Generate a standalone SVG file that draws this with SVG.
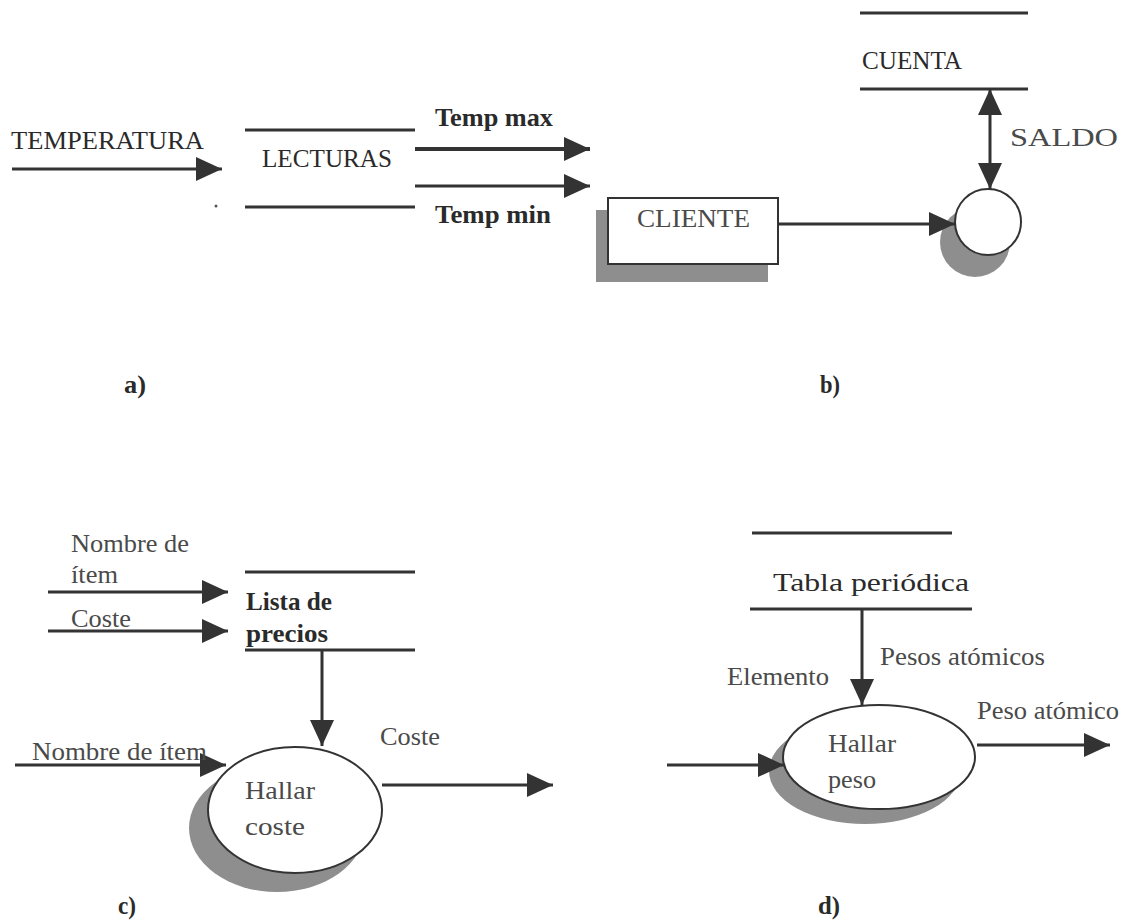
<svg xmlns="http://www.w3.org/2000/svg" width="1134" height="923" viewBox="0 0 1134 923">
  <style>
    text { font-family: "Liberation Serif", "Times New Roman", serif; font-size: 26px; fill: #2a2a2a; }
    .b { font-weight: bold; }
    .g { fill: #4a4a4a; }
    .line { stroke: #333; stroke-width: 3; fill: none; }
    .thick { stroke: #333; stroke-width: 4; fill: none; }
    .shape { fill: #fff; stroke: #333; stroke-width: 2; }
    .shadow { fill: #8e8e8e; }
  </style>
  <defs>
    <marker id="arrow" viewBox="0 0 26 24" refX="26" refY="12" markerWidth="26" markerHeight="24" markerUnits="userSpaceOnUse" orient="auto-start-reverse">
      <path d="M0,0 L26,12 L0,24 Z" fill="#333"/>
    </marker>
  </defs>
  <rect width="1134" height="923" fill="#fff"/>

  <!-- a) data store LECTURAS with one input and two outputs -->
  <g id="lecturas">
    <line class="line" x1="245" y1="130" x2="415" y2="130"/>
    <line class="line" x1="245" y1="207" x2="415" y2="207"/>
    <text x="262" y="167" textLength="130" lengthAdjust="spacingAndGlyphs">LECTURAS</text>
    <circle cx="216" cy="206" r="1.5" fill="#555"/>
  </g>

  <!-- b) external entity, store and process -->
  <g id="cliente">
    <rect class="shadow" x="596" y="210" width="172" height="72"/>
    <rect class="shape" x="608" y="198" width="170" height="66"/>
    <text class="g" x="637" y="227" textLength="113" lengthAdjust="spacingAndGlyphs">CLIENTE</text>
  </g>
  <g id="cuenta">
    <line class="line" x1="860" y1="13" x2="1028" y2="13"/>
    <line class="line" x1="860" y1="89" x2="1028" y2="89"/>
    <text x="862" y="69" textLength="100" lengthAdjust="spacingAndGlyphs">CUENTA</text>
  </g>
  <g id="proceso-b">
    <circle class="shadow" cx="975" cy="242" r="35"/>
    <circle class="shape" cx="988" cy="222" r="33"/>
  </g>

  <!-- c) price list store and cost process -->
  <g id="lista-precios">
    <line class="line" x1="245" y1="572" x2="415" y2="572"/>
    <line class="line" x1="245" y1="650" x2="415" y2="650"/>
    <text class="b" x="246" y="610" font-size="25" textLength="86" lengthAdjust="spacingAndGlyphs">Lista de</text>
    <text class="b" x="246" y="642" font-size="25" textLength="82" lengthAdjust="spacingAndGlyphs">precios</text>
  </g>
  <g id="hallar-coste">
    <ellipse class="shadow" cx="277" cy="828" rx="88" ry="64"/>
    <ellipse class="shape" cx="295" cy="810" rx="87" ry="63"/>
    <text class="g" x="245" y="799" textLength="70" lengthAdjust="spacingAndGlyphs">Hallar</text>
    <text class="g" x="245" y="835" textLength="60" lengthAdjust="spacingAndGlyphs">coste</text>
  </g>

  <!-- d) periodic table store and weight process -->
  <g id="tabla-periodica">
    <line class="line" x1="752" y1="533" x2="952" y2="533"/>
    <line class="line" x1="750" y1="609" x2="972" y2="609"/>
    <text x="773" y="591" font-size="31" textLength="196" lengthAdjust="spacingAndGlyphs">Tabla periódica</text>
  </g>
  <g id="hallar-peso">
    <ellipse class="shadow" cx="865" cy="771" rx="96" ry="53"/>
    <ellipse class="shape" cx="879" cy="757" rx="96" ry="52"/>
    <text class="g" x="828" y="752" textLength="68" lengthAdjust="spacingAndGlyphs">Hallar</text>
    <text class="g" x="828" y="788" textLength="48" lengthAdjust="spacingAndGlyphs">peso</text>
  </g>

  <!-- data flows -->
  <g id="connectors">
    <line class="line" x1="12" y1="169" x2="222" y2="169" marker-end="url(#arrow)"/>
    <line class="thick" x1="415" y1="149" x2="590" y2="149" marker-end="url(#arrow)"/>
    <line class="line" x1="415" y1="186" x2="590" y2="186" marker-end="url(#arrow)"/>

    <line class="line" x1="778" y1="224" x2="955" y2="224" marker-end="url(#arrow)"/>
    <line class="line" x1="990" y1="89" x2="990" y2="189" marker-start="url(#arrow)" marker-end="url(#arrow)"/>

    <line class="line" x1="48" y1="592" x2="228" y2="592" marker-end="url(#arrow)"/>
    <line class="line" x1="48" y1="631" x2="228" y2="631" marker-end="url(#arrow)"/>
    <line class="line" x1="322" y1="650" x2="322" y2="746" marker-end="url(#arrow)"/>
    <line class="line" x1="15" y1="765" x2="226" y2="765" marker-end="url(#arrow)"/>
    <line class="line" x1="382" y1="785" x2="553" y2="785" marker-end="url(#arrow)"/>

    <line class="line" x1="862" y1="609" x2="862" y2="705" marker-end="url(#arrow)"/>
    <line class="line" x1="667" y1="765" x2="784" y2="765" marker-end="url(#arrow)"/>
    <line class="line" x1="977" y1="745" x2="1110" y2="745" marker-end="url(#arrow)"/>
  </g>

  <!-- flow labels -->
  <g id="labels">
    <text x="11" y="149" textLength="193" lengthAdjust="spacingAndGlyphs">TEMPERATURA</text>
    <text class="b" x="435" y="126" textLength="118" lengthAdjust="spacingAndGlyphs">Temp max</text>
    <text class="b" x="435" y="223" textLength="116" lengthAdjust="spacingAndGlyphs">Temp min</text>
    <text class="g" x="1010" y="146" textLength="108" lengthAdjust="spacingAndGlyphs">SALDO</text>
    <text class="g" x="71" y="552" textLength="118" lengthAdjust="spacingAndGlyphs">Nombre de</text>
    <text class="g" x="71" y="583" textLength="47" lengthAdjust="spacingAndGlyphs">ítem</text>
    <text class="g" x="71" y="627" textLength="60" lengthAdjust="spacingAndGlyphs">Coste</text>
    <text class="g" x="32" y="760" textLength="175" lengthAdjust="spacingAndGlyphs">Nombre de ítem</text>
    <text class="g" x="380" y="745" textLength="60" lengthAdjust="spacingAndGlyphs">Coste</text>
    <text class="g" x="880" y="665" textLength="165" lengthAdjust="spacingAndGlyphs">Pesos atómicos</text>
    <text class="g" x="727" y="685" textLength="102" lengthAdjust="spacingAndGlyphs">Elemento</text>
    <text class="g" x="977" y="719" textLength="142" lengthAdjust="spacingAndGlyphs">Peso atómico</text>
  </g>

  <!-- panel captions -->
  <g id="captions">
    <text class="b" x="124" y="393" textLength="22" lengthAdjust="spacingAndGlyphs">a)</text>
    <text class="b" x="820" y="393" textLength="20" lengthAdjust="spacingAndGlyphs">b)</text>
    <text class="b" x="118" y="914" textLength="18" lengthAdjust="spacingAndGlyphs">c)</text>
    <text class="b" x="818" y="914" textLength="22" lengthAdjust="spacingAndGlyphs">d)</text>
  </g>
</svg>
